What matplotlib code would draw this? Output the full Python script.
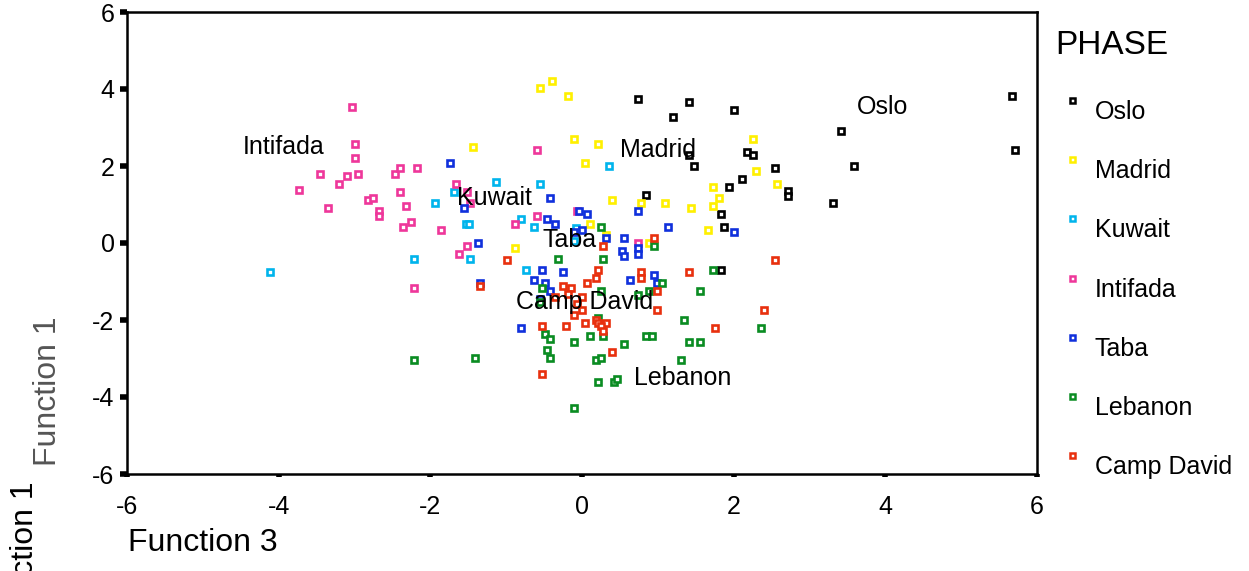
import numpy as np
import matplotlib
matplotlib.use("Agg")
import matplotlib.pyplot as plt

plt.rcParams['font.family'] = ['Liberation Sans', 'DejaVu Sans']
plt.rcParams['axes.unicode_minus'] = False

# discriminant scores per phase: (Function 3, Function 1)
oslo = [(0.74, 3.74), (1.41, 3.67), (1.20, 3.26), (2.01, 3.46), (1.41, 2.29), (1.48, 2.01),
        (2.18, 2.36), (2.25, 2.29), (2.54, 1.94), (2.11, 1.66), (1.94, 1.45), (0.85, 1.25),
        (1.83, 0.76), (1.87, 0.42), (5.67, 3.81), (5.71, 2.42), (3.42, 2.91), (3.59, 2.01),
        (2.71, 1.35), (2.71, 1.21), (3.31, 1.04), (1.83, -0.69)]
madrid = [(-0.56, 4.02), (-0.39, 4.22), (-0.18, 3.81), (-1.44, 2.49), (-0.11, 2.70), (0.21, 2.56),
          (0.04, 2.08), (2.25, 2.70), (2.29, 1.87), (2.57, 1.52), (1.73, 1.45), (1.80, 1.18),
          (1.73, 0.97), (1.66, 0.35), (1.44, 0.90), (1.09, 1.04), (0.78, 1.04), (0.39, 1.11),
          (0.11, 0.49), (0.32, 0.22), (-0.88, -0.14), (0.88, 0.0)]
kuwait = [(0.35, 2.01), (-1.13, 1.59), (-0.56, 1.52), (-1.69, 1.32), (-1.94, 1.04), (-0.81, 0.62),
          (-0.63, 0.42), (-1.53, 0.49), (-1.49, 0.49), (-1.48, -0.42), (-2.22, -0.42),
          (-4.12, -0.75), (-0.11, 0.05), (-0.08, 0.40), (-0.74, -0.69)]
intifada = [(-3.03, 3.53), (-2.99, 2.56), (-2.99, 2.22), (-3.45, 1.80), (-2.96, 1.80), (-3.10, 1.73),
            (-3.21, 1.52), (-3.73, 1.38), (-3.35, 0.90), (-2.47, 1.80), (-2.40, 1.94), (-2.18, 1.94),
            (-2.82, 1.11), (-2.75, 1.18), (-2.68, 0.83), (-2.68, 0.69), (-2.40, 1.32), (-2.32, 0.97),
            (-2.25, 0.55), (-2.36, 0.42), (-1.86, 0.35), (-2.22, -1.18), (-0.60, 2.42), (-1.66, 1.52),
            (-1.52, 1.32), (-1.48, 1.04), (-0.60, 0.69), (-0.88, 0.49), (-0.07, 0.83), (-1.52, -0.07),
            (-1.62, -0.28), (0.74, 0.0)]
taba = [(-1.74, 2.08), (-1.55, 0.90), (-0.42, 1.18), (-0.04, 0.83), (0.07, 0.76), (-0.46, 0.62),
        (-0.35, 0.49), (0.74, 0.83), (1.13, 0.42), (2.01, 0.28), (-1.37, 0.0), (-0.11, 0.28),
        (0.0, 0.35), (0.32, 0.14), (0.56, 0.14), (0.53, -0.21), (0.56, -0.35), (0.74, -0.14),
        (0.74, -0.28), (-0.53, -0.69), (-0.25, -0.76), (-1.34, -1.04), (-0.63, -0.97),
        (-0.49, -1.04), (-0.42, -1.25), (0.63, -0.97), (0.95, -0.83), (0.99, -1.04),
        (-0.56, -1.45), (-0.81, -2.22)]
lebanon = [(0.25, 0.42), (0.95, -0.07), (-0.32, -0.42), (0.28, -0.42), (1.73, -0.69), (-0.53, -1.18),
           (1.06, -1.04), (0.88, -1.25), (1.55, -1.25), (0.25, -1.25), (0.74, -1.35), (-0.56, -1.52),
           (1.34, -2.01), (0.21, -1.94), (2.36, -2.22), (-0.49, -2.36), (-0.42, -2.49), (-0.11, -2.56),
           (0.11, -2.42), (0.28, -2.42), (0.56, -2.63), (0.85, -2.42), (0.92, -2.42), (1.41, -2.56),
           (1.55, -2.56), (-0.46, -2.77), (-0.42, -2.98), (0.18, -3.05), (0.25, -2.98), (1.30, -3.05),
           (-1.41, -2.98), (-2.22, -3.04), (0.21, -3.60), (0.42, -3.60), (0.46, -3.53), (-0.11, -4.29)]
camp_david = [(0.95, 0.14), (0.28, -0.07), (-0.99, -0.45), (2.54, -0.45), (0.21, -0.69), (0.18, -0.90),
              (0.78, -0.76), (0.78, -0.90), (1.41, -0.76), (-1.34, -1.11), (-0.25, -1.11),
              (-0.14, -1.18), (0.07, -1.04), (0.99, -1.25), (-0.35, -1.39), (-0.18, -1.32),
              (-0.07, -1.59), (0.0, -1.39), (0.0, -1.73), (-0.11, -1.87), (0.99, -1.73), (2.40, -1.73),
              (0.18, -2.01), (0.21, -2.08), (0.32, -2.08), (0.25, -2.15), (0.28, -2.29), (0.04, -2.08),
              (-0.53, -2.15), (-0.21, -2.15), (1.76, -2.22), (0.39, -2.84), (-0.53, -3.39)]

phases = ['Oslo', 'Madrid', 'Kuwait', 'Intifada', 'Taba', 'Lebanon', 'Camp David']
groups = [oslo, madrid, kuwait, intifada, taba, lebanon, camp_david]
colors = ['#000000', '#FFF000', '#00B4EC', '#EE379A', '#1030DC', '#0A8C22', '#E8300E']

# group centroid labels
label_pos = {'Oslo': (3.97, 3.53), 'Madrid': (1.0, 2.42), 'Kuwait': (-1.16, 1.18),
             'Intifada': (-3.93, 2.49), 'Taba': (-0.17, 0.07), 'Camp David': (0.03, -1.53),
             'Lebanon': (1.33, -3.50)}

W, H = 1249, 571
fig = plt.figure(figsize=(W / 100, H / 100), dpi=100)
ax = fig.add_axes([127 / W, 1 - 474 / H, 910 / W, 462 / H])

for name, pts, c in zip(phases, groups, colors):
    pts = np.array(pts)
    ax.plot(pts[:, 0], pts[:, 1], 's', ms=3.8, mew=1.9, mec=c, mfc='white', ls='none')

for name, (x, y) in label_pos.items():
    ax.text(x, y, name, fontsize=18, ha='center', va='center')

ax.set_xlim(-6, 6)
ax.set_ylim(-6, 6)
ax.set_xticks(range(-6, 7, 2))
ax.set_yticks(range(-6, 7, 2))
for s in ax.spines.values():
    s.set_linewidth(1.8)
ax.tick_params(axis='y', length=5, width=4, pad=4, labelsize=18)
ax.tick_params(axis='x', length=2, width=4, pad=13, labelsize=18)


def fx(px):
    return px / W


def fy(py):
    return 1 - py / H


fig.text(fx(128), fy(543), 'Function 3', fontsize=23, ha='left', va='center')
fig.text(fx(48), fy(391), 'Function 1', fontsize=23, rotation=90, ha='center', va='center',
         color='#555555', fontweight='light')
fig.text(fx(25), fy(556), 'Function 1', fontsize=23, rotation=90, ha='center', va='center')

# legend
fig.text(fx(1055), fy(45), 'PHASE', fontsize=24, ha='left', va='center')
lax = fig.add_axes([0, 0, 1, 1])
lax.set_xlim(0, W)
lax.set_ylim(H, 0)
lax.axis('off')
for i, (name, c) in enumerate(zip(phases, colors)):
    ty = 112 + i * 59.2
    lax.plot([1072], [ty - 12], 's', ms=3.6, mew=1.8, mec=c, mfc='white')
    lax.text(1095, ty, name, fontsize=18, ha='left', va='center')

fig.savefig('out.png', dpi=100)
